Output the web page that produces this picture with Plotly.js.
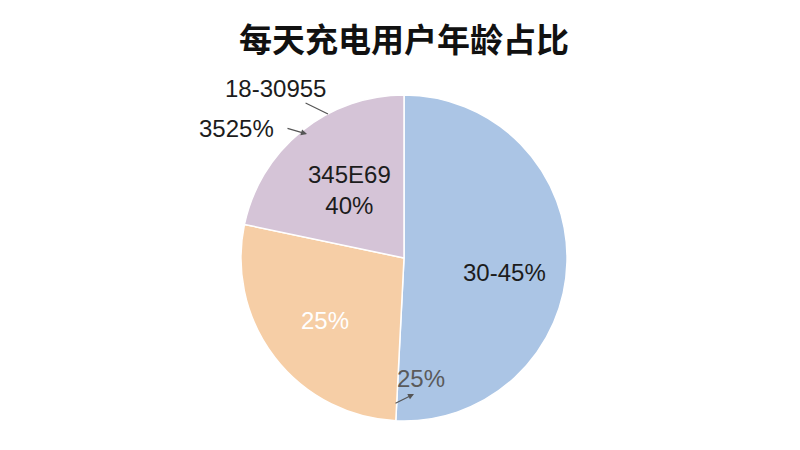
<!DOCTYPE html>
<html>
<head>
<meta charset="utf-8">
<script src="https://cdn.plot.ly/plotly-3.0.1.min.js"></script>
<style>
  html, body { margin: 0; padding: 0; background: #fff; }
  #chart { width: 800px; height: 450px; }
</style>
</head>
<body>
<div id="chart"></div>
<script>
// slice data, clockwise from 12 o'clock
const groups = ["30-45%", "25%", "40%"];
const shares = [50.8, 27.5, 21.7];
const colors = ["#abc5e5", "#f6cea6", "#d5c4d7"];

// label texts as printed on the picture
const labelText = ["30-45%", "25%", "345E69<br>40%", "18-30955", "3525%", "25%"];

const font = "Liberation Sans, Arial, sans-serif";

const trace = {
  type: "pie",
  labels: groups,
  values: shares,
  sort: false,
  direction: "clockwise",
  rotation: 0,
  textinfo: "none",
  hoverinfo: "skip",
  marker: { colors: colors, line: { color: "#ffffff", width: 1.5 } },
  domain: { x: [0.2975, 0.7125], y: [0.0644, 0.789] },
  showlegend: false,
};

function note(text, x, y, opts) {
  return Object.assign({
    text: text, x: x, y: y, xref: "paper", yref: "paper",
    xanchor: "center", yanchor: "middle",
    showarrow: false, font: { family: font, size: 24, color: "#1c1c1c" },
  }, opts || {});
}

const px = (v) => v / 800;
const py = (v) => 1 - v / 450;

const annotations = [
  note(labelText[0], px(504), py(272)),
  note(labelText[1], px(325), py(320), { font: { family: font, size: 24, color: "#ffffff" } }),
  note(labelText[2], px(349), py(190), { align: "center" }),
  note(labelText[3], px(328), py(114), {
    showarrow: true, arrowhead: 0, arrowwidth: 1.2, arrowcolor: "#555",
    ax: -53, ay: -26, standoff: 0,
  }),
  note(labelText[4], px(236), py(128)),
  {
    x: px(307), y: py(134), xref: "paper", yref: "paper", text: "",
    showarrow: true, arrowhead: 2, arrowsize: 1, arrowwidth: 1.2, arrowcolor: "#555",
    ax: -21, ay: -6,
  },
  note(labelText[5], px(421), py(378), { font: { family: font, size: 24, color: "#5a5a5a" } }),
  {
    x: px(414), y: py(394), xref: "paper", yref: "paper", text: "",
    showarrow: true, arrowhead: 2, arrowsize: 1, arrowwidth: 1.2, arrowcolor: "#555",
    ax: -20, ay: 10,
  },
];

const layout = {
  width: 800,
  height: 450,
  margin: { l: 0, r: 0, t: 0, b: 0 },
  paper_bgcolor: "#ffffff",
  title: {
    text: "每天充电用户年龄占比",
    x: 0.505, xanchor: "center",
    y: 1 - 40 / 450, yanchor: "middle",
    font: { family: "Noto Sans CJK SC, sans-serif", size: 33, color: "#111", weight: "bold" },
  },
  annotations: annotations,
};

Plotly.newPlot("chart", [trace], layout, { displayModeBar: false, staticPlot: true });
</script>
</body>
</html>
